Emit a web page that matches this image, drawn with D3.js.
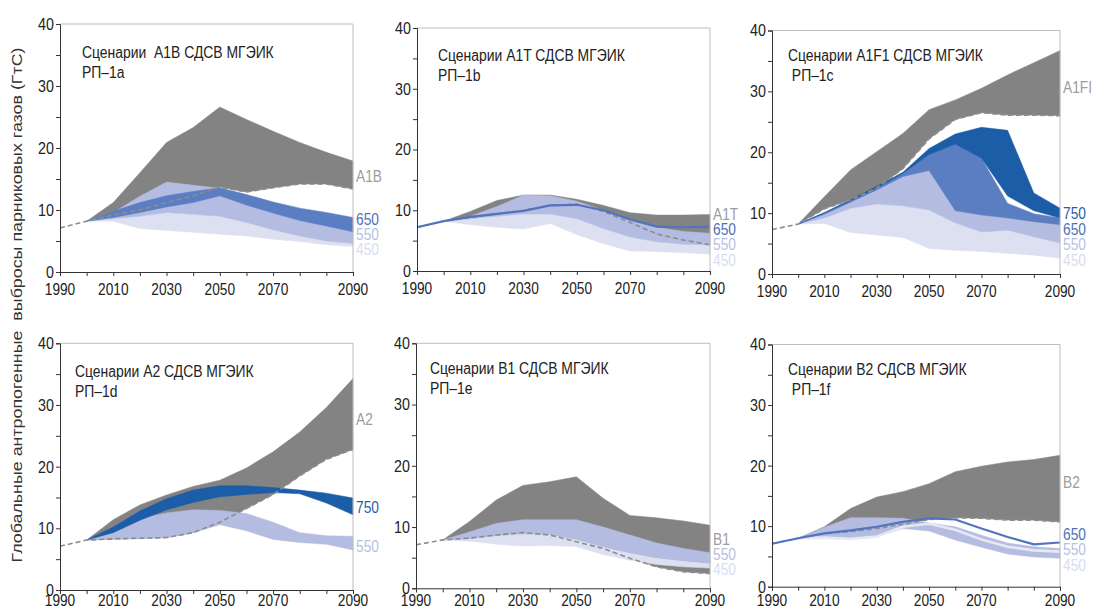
<!DOCTYPE html>
<html>
<head>
<meta charset="UTF-8">
<title>Сценарии СДСВ МГЭИК</title>
<script src="https://d3js.org/d3.v7.min.js"></script>
<style>
  body { margin: 0; background: #fff; }
  text { font-family: "Liberation Sans", Arial, sans-serif; fill: #222; white-space: pre; }
</style>
</head>
<body>
<div id="chart"></div>
<script>
// ---- data (GtC) ----
const years = [1990, 2000, 2010, 2020, 2030, 2040, 2050, 2060, 2070, 2080, 2090, 2100];
const yTickValues = [0, 10, 20, 30, 40];
const xTickYears = [1990, 2010, 2030, 2050, 2070, 2100];
const xTickLabels = ["1990", "2010", "2030", "2050", "2070", "2090"];

// A1B
const a1bDash   = [7.1, 8.2, 9.2, 10.0, 11.2, 12.3, 13.7, 12.9, 13.6, 14.2, 14.2, 13.4];
const a1bGrayHi = [null, 8.2, 11.2, 16.0, 20.9, 23.3, 26.6, 24.6, 22.7, 20.9, 19.3, 17.9];
const a1b650Hi  = [null, 8.2, 9.8, 11.2, 12.3, 13.0, 13.6, 12.5, 11.3, 10.3, 9.6, 8.8];
const a1b650Lo  = [null, 8.2, 8.8, 9.6, 10.5, 11.2, 12.3, 10.8, 9.5, 8.3, 7.4, 6.5];
const a1b550Hi  = [null, 8.2, 9.6, 12.2, 14.5, 14.0, 13.5, 12.0, 10.8, 9.5, 8.5, 7.5];
const a1b550Lo  = [null, 8.2, 8.6, 9.0, 9.6, 9.3, 9.0, 8.0, 6.8, 5.8, 5.0, 4.6];
const a1b450Lo  = [null, 8.2, 8.2, 7.0, 6.7, 6.4, 6.1, 5.8, 5.3, 4.9, 4.4, 4.1];

// A1T
const a1tDash   = [7.2, 8.2, 8.8, 9.4, 10.0, 10.8, 11.0, 9.8, 8.0, 6.1, 5.1, 4.3];
const a1tGrayHi = [null, 8.2, 9.8, 11.6, 12.5, 12.5, 11.8, 10.8, 9.6, 9.2, 9.2, 9.3];
const a1t550Hi  = [null, 8.2, 9.0, 10.6, 12.5, 12.4, 11.5, 10.0, 8.6, 7.2, 6.5, 6.2];
const a1t550Lo  = [null, 8.2, 8.6, 9.0, 9.4, 9.4, 8.6, 7.0, 5.6, 4.8, 4.4, 4.3];
const a1t450Lo  = [null, 8.2, 7.6, 7.2, 6.9, 7.8, 6.0, 4.5, 3.3, 3.2, 3.0, 2.8];
const a1t650    = [7.2, 8.2, 8.9, 9.4, 9.9, 10.8, 10.9, 10.0, 8.5, 7.3, 7.2, 7.3];

// A1FI
const a1fiDash   = [7.3, 8.2, 10.7, 12.2, 14.1, 17.3, 22.2, 25.4, 26.5, 26.1, 26.1, 26.0];
const a1fiGrayHi = [null, 8.2, 12.7, 17.1, 20.1, 23.1, 27.0, 28.6, 30.5, 32.7, 34.7, 36.7];
const a1fi750Hi  = [null, 8.2, 10.1, 12.2, 14.4, 16.7, 20.6, 23.0, 24.1, 23.6, 13.3, 10.8];
const a1fi750Lo  = [null, 8.2, 10.0, 12.0, 14.1, 16.5, 19.6, 21.3, 19.0, 12.8, 10.4, 9.2];
const a1fi650Hi  = [null, 8.2, 10.0, 12.0, 14.1, 16.5, 19.6, 21.3, 19.0, 11.6, 9.9, 9.2];
const a1fi550Hi  = [null, 8.2, 9.8, 11.8, 13.8, 16.0, 17.0, 10.4, 9.7, 9.2, 8.6, 8.1];
const a1fi450Hi  = [null, 8.2, 9.2, 10.8, 11.5, 11.2, 10.5, 8.4, 6.9, 7.2, 6.1, 5.1];
const a1fi450Lo  = [null, 8.2, 8.3, 6.8, 6.4, 6.0, 4.2, 3.9, 3.7, 3.4, 3.1, 2.6];

// A2
const a2Dash   = [7.1, 8.1, 8.3, 8.4, 8.5, 9.3, 11.0, 13.2, 15.5, 18.5, 21.2, 22.8];
const a2GrayHi = [null, 8.1, 11.4, 13.8, 15.4, 16.8, 17.8, 19.8, 22.4, 25.6, 29.6, 34.3];
const a2750Hi  = [null, 8.1, 10.2, 12.8, 14.8, 16.2, 16.9, 16.9, 16.6, 16.2, 15.7, 14.9];
const a2750Lo  = [null, 8.1, 9.3, 11.3, 13.0, 14.2, 15.1, 15.5, 15.8, 15.6, 14.1, 12.2];
const a2550Hi  = [null, 8.1, 9.6, 11.6, 12.5, 13.0, 12.9, 12.4, 11.0, 9.3, 8.8, 8.7];
const a2550Lo  = [null, 8.1, 8.2, 8.3, 8.5, 9.3, 10.6, 9.6, 8.2, 7.7, 7.4, 6.5];

// B1
const b1Dash   = [7.1, 7.9, 8.2, 8.7, 9.1, 8.7, 7.6, 6.5, 4.9, 3.5, 2.7, 2.4];
const b1GrayHi = [null, 7.9, 10.9, 14.4, 16.8, 17.4, 18.2, 14.7, 11.9, 11.5, 11.0, 10.3];
const b1550Hi  = [null, 7.9, 9.2, 10.6, 11.2, 11.2, 11.2, 10.0, 8.7, 7.4, 6.5, 5.8];
const b1550Lo  = [null, 7.9, 8.1, 8.6, 8.9, 8.8, 8.0, 6.8, 5.8, 5.0, 4.5, 4.1];
const b1450Lo  = [null, 7.9, 7.7, 7.2, 6.9, 7.0, 6.8, 5.5, 4.6, 3.9, 3.5, 3.3];

// B2
const b2Dash   = [7.1, 8.0, 8.8, 9.1, 9.6, 10.3, 11.1, 11.4, 11.3, 11.0, 11.0, 10.7];
const b2GrayHi = [null, 8.0, 9.9, 12.9, 14.8, 15.7, 17.0, 19.0, 19.9, 20.6, 21.0, 21.7];
const b2550Hi  = [null, 8.0, 9.8, 11.4, 11.4, 11.3, 10.5, 9.9, 8.5, 7.2, 6.6, 6.3];
const b2550Lo  = [null, 8.0, 8.2, 8.0, 8.3, 9.6, 9.2, 7.7, 6.5, 5.4, 4.9, 4.7];
const b2450    = [null, 8.0, 8.1, 7.9, 8.3, 9.9, 10.4, 9.4, 7.8, 6.6, 6.0, 5.8];
const b2650    = [7.1, 8.0, 8.8, 9.3, 9.9, 10.7, 11.3, 11.1, 9.6, 8.2, 7.0, 7.3];

// ---- styles ----
const fills = { gray: "#838383", c750: "#1c5da7", c650: "#5b7dc2", c550: "#b4bce1", c450: "#dde0f1" };
const tagColors = { gray: "#9c9c9c", c750: "#1f5fa9", c650: "#4d70b9", c550: "#b7bfe3", c450: "#d9ddef" };

const panels = [
  { title: "Сценарии  A1B СДСВ МГЭИК", sub: "РП–1a",
    frame: { x0: 60, x1: 353, y40: 24, y0: 272, tx: 22, ty: 34 },
    bands: [[a1bDash, a1bGrayHi, "gray"], [a1b450Lo, a1b550Lo, "c450"], [a1b550Lo, a1b550Hi, "c550"], [a1b650Lo, a1b650Hi, "c650"]],
    lines: [], dash: a1bDash,
    tags: [["A1B", 15.3, "gray"], ["650", 8.4, "c650"], ["550", 6.0, "c550"], ["450", 3.5, "c450"]] },
  { title: "Сценарии A1T СДСВ МГЭИК", sub: "РП–1b",
    frame: { x0: 417, x1: 710, y40: 28, y0: 271, tx: 21, ty: 33 },
    bands: [[a1tDash, a1tGrayHi, "gray"], [a1t450Lo, a1t550Lo, "c450"], [a1t550Lo, a1t550Hi, "c550"]],
    lines: [[a1t650, "c650"]], dash: a1tDash,
    tags: [["A1T", 9.2, "gray"], ["650", 6.7, "c650"], ["550", 4.3, "c550"], ["450", 1.6, "c450"]] },
  { title: "Сценарии A1F1 СДСВ МГЭИК", sub: " РП–1c",
    frame: { x0: 772, x1: 1060, y40: 30.5, y0: 274, tx: 16, ty: 30 },
    bands: [[a1fiDash, a1fiGrayHi, "gray"], [a1fi450Lo, a1fi450Hi, "c450"], [a1fi450Hi, a1fi550Hi, "c550"],
            [a1fi550Hi, a1fi650Hi, "c650"], [a1fi750Lo, a1fi750Hi, "c750"]],
    lines: [], dash: a1fiDash,
    tags: [["A1FI", 30.6, "gray"], ["750", 9.9, "c750"], ["650", 7.2, "c650"], ["550", 4.8, "c550"], ["450", 2.1, "c450"]] },
  { title: "Сценарии A2 СДСВ МГЭИК", sub: "РП–1d",
    frame: { x0: 60, x1: 353, y40: 343.3, y0: 590, tx: 15, ty: 34 },
    bands: [[a2Dash, a2GrayHi, "gray"], [a2550Lo, a2550Hi, "c550"], [a2750Lo, a2750Hi, "c750"]],
    lines: [], dash: a2Dash,
    tags: [["A2", 27.6, "gray"], ["750", 13.3, "c750"], ["550", 7.0, "c550"]] },
  { title: "Сценарии B1 СДСВ МГЭИК", sub: "РП–1e",
    frame: { x0: 416, x1: 710, y40: 343.3, y0: 588.3, tx: 14, ty: 31 },
    bands: [[b1Dash, b1GrayHi, "gray"], [b1450Lo, b1550Lo, "c450"], [b1550Lo, b1550Hi, "c550"]],
    lines: [], dash: b1Dash,
    tags: [["B1", 7.9, "gray"], ["550", 5.4, "c550"], ["450", 3.0, "c450"]] },
  { title: "Сценарии B2 СДСВ МГЭИК", sub: " РП–1f",
    frame: { x0: 772, x1: 1060, y40: 344.5, y0: 586.7, tx: 16, ty: 30 },
    bands: [[b2Dash, b2GrayHi, "gray"], [b2550Lo, b2550Hi, "c550"]],
    lines: [[b2450, "c450"], [b2650, "c650"]], dash: b2Dash,
    tags: [["B2", 17.1, "gray"], ["650", 8.5, "c650"], ["550", 6.0, "c550"], ["450", 3.4, "c450"]] }
];

const svg = d3.select("#chart").append("svg")
    .attr("width", 1093)
    .attr("height", 611);

// condensed text helper (the original uses a narrow face)
function label(g, x, y, str, size, sx, color, anchor) {
    return g.append("text")
        .attr("transform", "translate(" + x + "," + y + ") scale(" + sx + ",1)")
        .attr("text-anchor", anchor || "start")
        .style("font-size", size + "px")
        .style("fill", color || "#222")
        .text(str);
}

panels.forEach(function (p) {
    const f = p.frame;
    const x = d3.scaleLinear().domain([1990, 2100]).range([f.x0, f.x1]);
    const y = d3.scaleLinear().domain([0, 40]).range([f.y0, f.y40]);
    const g = svg.append("g");

    const area = d3.area()
        .defined(d => d.lo != null && d.hi != null)
        .x(d => x(d.year)).y0(d => y(d.lo)).y1(d => y(d.hi));
    const line = d3.line()
        .defined(d => d.v != null)
        .x(d => x(d.year)).y(d => y(d.v));

    p.bands.forEach(function (b) {
        const rows = years.map((yr, i) => ({ year: yr, lo: b[0][i], hi: b[1][i] }));
        g.append("path").datum(rows)
            .attr("d", area)
            .attr("fill", fills[b[2]])
            .attr("stroke", fills[b[2]])
            .attr("stroke-width", 0.5);
    });

    // reference (dashed) path
    g.append("path")
        .datum(years.map((yr, i) => ({ year: yr, v: p.dash[i] })))
        .attr("d", line)
        .attr("fill", "none")
        .attr("stroke", "#8d8d8d")
        .attr("stroke-width", 1.6)
        .attr("stroke-dasharray", "5,3");

    p.lines.forEach(function (l) {
        g.append("path")
            .datum(years.map((yr, i) => ({ year: yr, v: l[0][i] })))
            .attr("d", line)
            .attr("fill", "none")
            .attr("stroke", l[1] === "c450" ? "#e6e8f4" : "#5273bd")
            .attr("stroke-width", l[1] === "c450" ? 2.6 : 2.2);
    });

    // frame: light top / right borders
    g.append("path")
        .attr("d", "M" + f.x0 + "," + f.y40 + "H" + f.x1 + "V" + f.y0)
        .attr("fill", "none")
        .attr("stroke", "#bdbdbd")
        .attr("stroke-width", 1);

    // y axis
    const ya = g.append("g")
        .attr("transform", "translate(" + f.x0 + ",0)")
        .call(d3.axisLeft(y).tickValues(d3.range(0, 41, 5)).tickSize(4)
            .tickFormat(d => yTickValues.includes(d) ? d : ""));
    ya.select(".domain").attr("stroke", "#333");
    ya.selectAll(".tick line").attr("stroke", "#333");
    ya.selectAll(".tick text")
        .attr("x", null)
        .attr("transform", "translate(-6,0) scale(0.84,1)")
        .style("font-size", "17px")
        .style("font-family", "'Liberation Sans', Arial, sans-serif")
        .attr("fill", "#222");

    // x axis
    const xa = g.append("g")
        .attr("transform", "translate(0," + f.y0 + ")")
        .call(d3.axisBottom(x).tickValues(years).tickSize(4).tickFormat(""));
    xa.select(".domain").attr("stroke", "#333");
    xa.selectAll(".tick line").attr("stroke", "#333");
    const labelY = Math.min(f.y0 + 23, 606);
    xTickYears.forEach(function (yr, i) {
        label(g, x(yr), labelY, xTickLabels[i], 16.5, 0.83, "#222", "middle");
    });

    // title
    label(g, f.x0 + f.tx, f.y40 + f.ty, p.title, 16, 0.87, "#222");
    label(g, f.x0 + f.tx, f.y40 + f.ty + 20, p.sub, 16, 0.87, "#222");

    // series tags at right edge
    p.tags.forEach(function (t) {
        label(g, f.x1 + 3, y(t[1]) + 5, t[0], 16, 0.86, tagColors[t[2]]);
    });
});

svg.append("text")
    .attr("transform", "translate(22,305) rotate(-90)")
    .attr("text-anchor", "middle")
    .style("font-size", "15px")
    .style("fill", "#333")
    .attr("textLength", 515)
    .attr("lengthAdjust", "spacingAndGlyphs")
    .text("Глобальные антропогенные  выбросы парниковых газов (ГтС)");
</script>
</body>
</html>
